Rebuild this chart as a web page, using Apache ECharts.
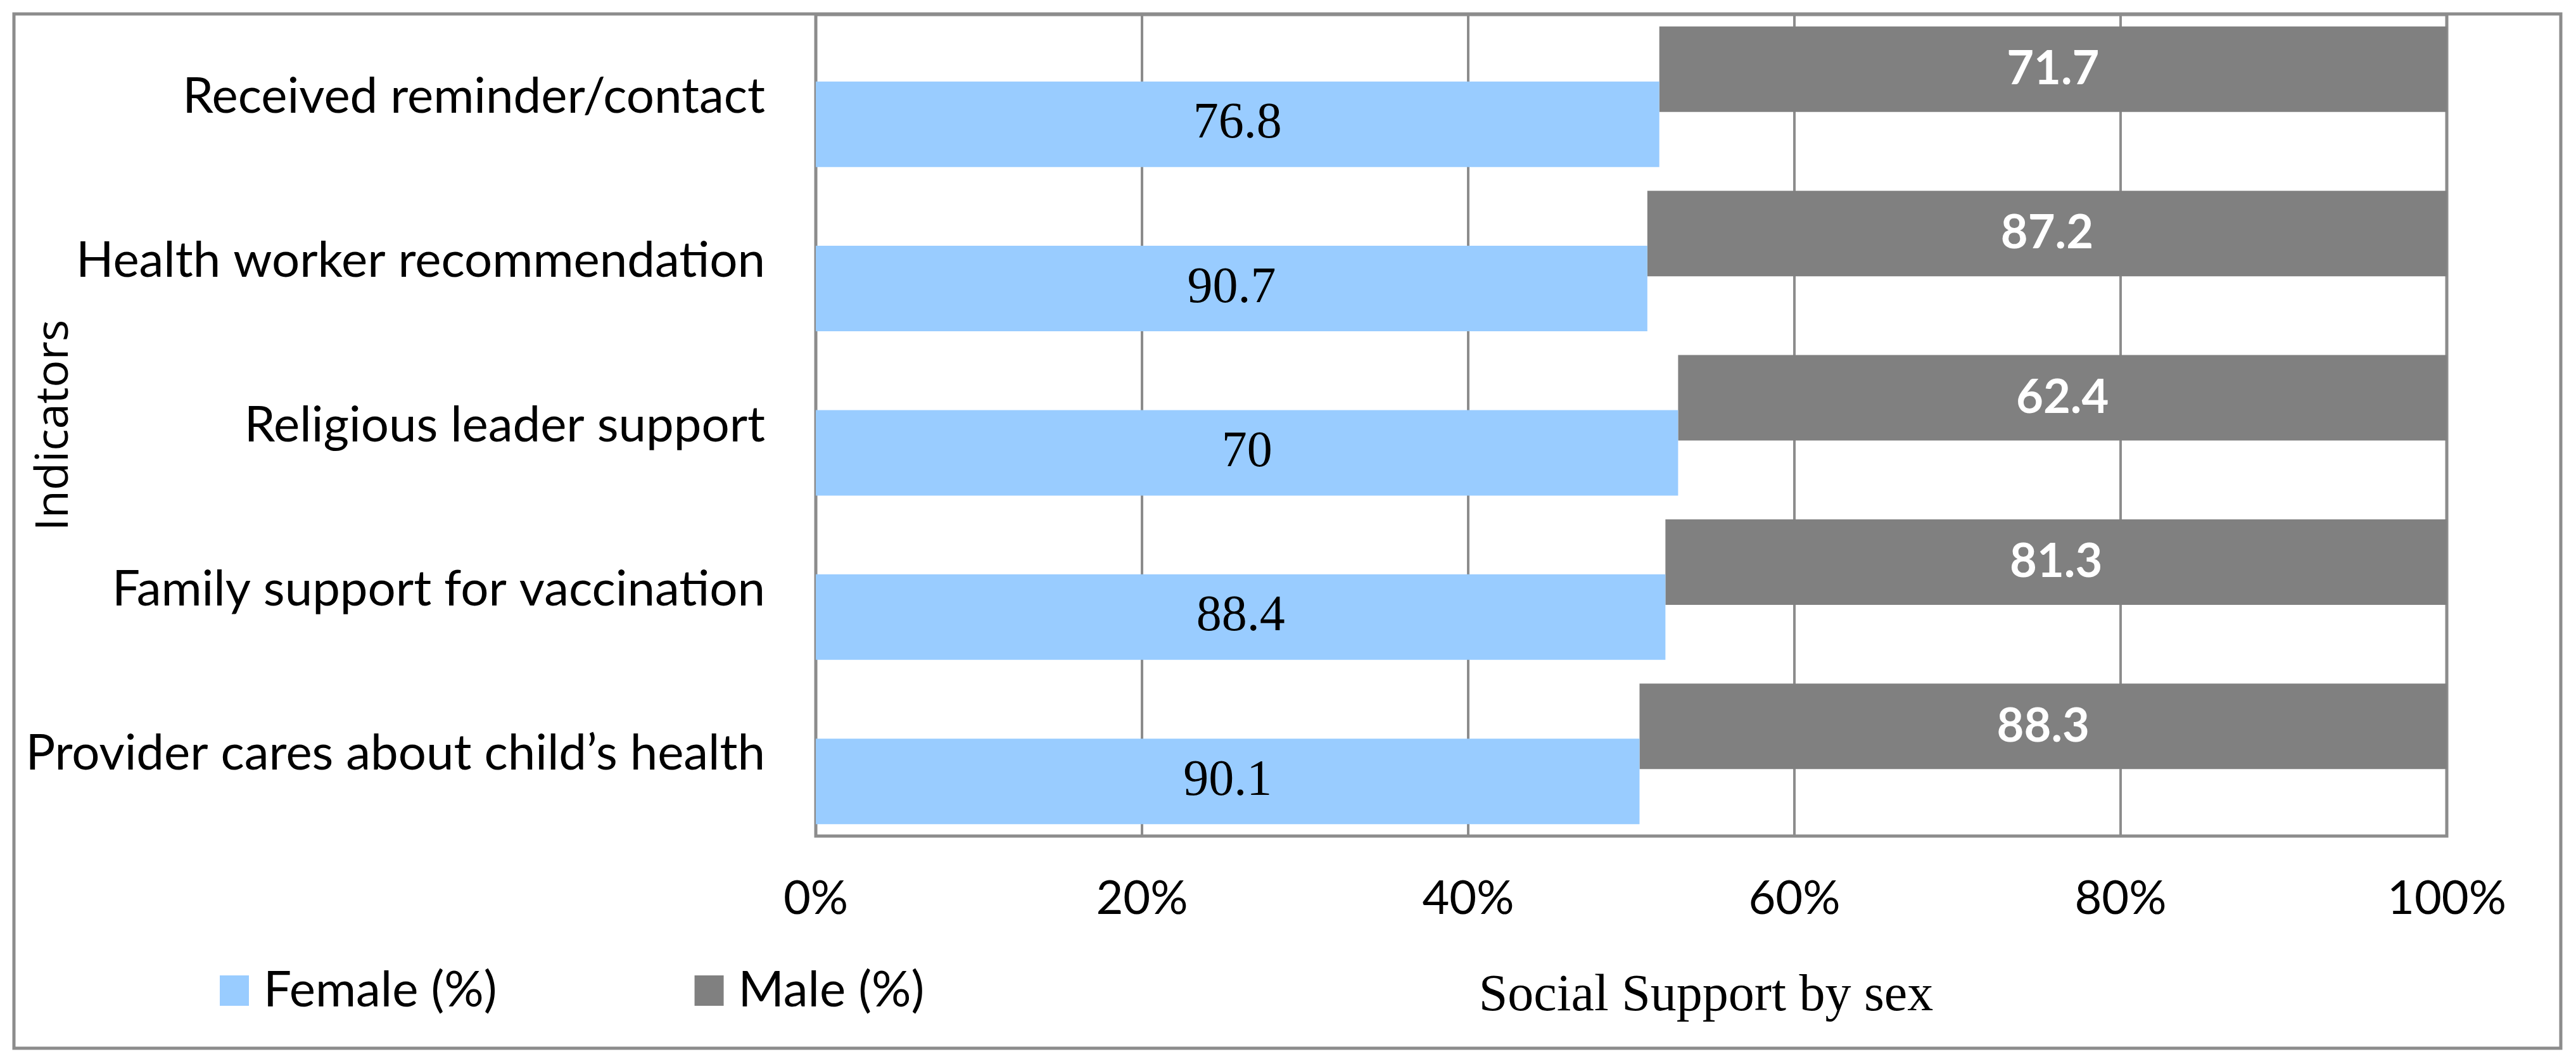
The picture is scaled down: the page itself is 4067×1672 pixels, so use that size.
<!DOCTYPE html>
<html>
<head>
<meta charset="utf-8">
<script src="https://cdn.jsdelivr.net/npm/echarts@6/dist/echarts.min.js"></script>
<style>
html,body{margin:0;padding:0;background:#fff;}
#chart{width:4067px;height:1672px;}
</style>
</head>
<body>
<div id="chart"></div>
<script>
const categories = [
  'Received reminder/contact',
  'Health worker recommendation',
  'Religious leader support',
  'Family support for vaccination',
  'Provider cares about child\u2019s health'
];
const female = [76.8, 90.7, 70, 88.4, 90.1];
const male = [71.7, 87.2, 62.4, 81.3, 88.3];
const xTicks = [0, 20, 40, 60, 80, 100];

const femalePct = female.map((f, i) => f / (f + male[i]) * 100);
const malePct = male.map((m, i) => m / (female[i] + m) * 100);

const chart = echarts.init(document.getElementById('chart'), null, {renderer: 'canvas'});
const gridColor = '#8c8c8c';
const sans = 'Lato';

chart.setOption({
  animation: false,
  backgroundColor: '#ffffff',
  graphic: [{
    type: 'rect',
    shape: {x: 22, y: 22, width: 4021, height: 1633},
    style: {fill: 'none', stroke: gridColor, lineWidth: 5},
    silent: true,
    z: 100
  }],
  legend: {
    data: ['Female (%)', 'Male (%)'],
    left: 342,
    top: 1520,
    itemWidth: 46,
    itemHeight: 48,
    itemGap: 312,
    icon: 'rect',
    textStyle: {fontFamily: sans, fontSize: 78, color: '#000', padding: [0, 0, 0, 18]}
  },
  grid: {
    left: 1288, top: 23, width: 2575, height: 1297,
    show: true, borderColor: gridColor, borderWidth: 5,
    containLabel: false,
    outerBoundsMode: 'none'
  },
  xAxis: {
    type: 'value',
    min: 0, max: 100, interval: 20,
    axisLine: {show: false},
    axisTick: {show: false},
    splitLine: {show: true, lineStyle: {color: gridColor, width: 4}},
    axisLabel: {
      formatter: v => xTicks.includes(v) ? v + '%' : '',
      fontFamily: sans, fontSize: 74, color: '#000', margin: 62
    },
    name: 'Social Support by sex',
    nameLocation: 'middle',
    nameGap: 212,
    nameMoveOverlap: false,
    nameTextStyle: {fontFamily: 'Liberation Serif', fontSize: 82, color: '#000', padding: [0, 0, 0, 236]}
  },
  yAxis: {
    type: 'category',
    data: categories,
    inverse: true,
    axisLine: {show: false},
    axisTick: {show: false},
    axisLabel: {fontFamily: sans, fontSize: 78, color: '#000', margin: 80},
    name: 'Indicators',
    nameLocation: 'middle',
    nameRotate: 90,
    nameGap: 1166,
    nameMoveOverlap: false,
    nameTextStyle: {fontFamily: 'Open Sans', fontSize: 72, color: '#000'}
  },
  series: [
    {
      name: 'maleBase',
      type: 'bar',
      stack: 'm',
      data: femalePct,
      barWidth: 135,
      barGap: '-35.6%',
      itemStyle: {color: 'rgba(0,0,0,0)'},
      label: {show: false},
      silent: true
    },
    {
      name: 'Male (%)',
      type: 'bar',
      stack: 'm',
      data: malePct,
      barWidth: 135,
      barGap: '-35.6%',
      itemStyle: {color: '#808080'},
      label: {
        show: true, position: 'inside',
        formatter: p => String(male[p.dataIndex]),
        fontFamily: sans, fontWeight: 'bold', fontSize: 74, color: '#fff'
      }
    },
    {
      name: 'Female (%)',
      type: 'bar',
      data: femalePct,
      barWidth: 135,
      barGap: '-35.6%',
      itemStyle: {color: '#99CCFF'},
      label: {
        show: true, position: 'inside',
        formatter: p => String(female[p.dataIndex]),
        fontFamily: 'Liberation Serif', fontSize: 80, color: '#000'
      }
    }
  ]
});
</script>
</body>
</html>
